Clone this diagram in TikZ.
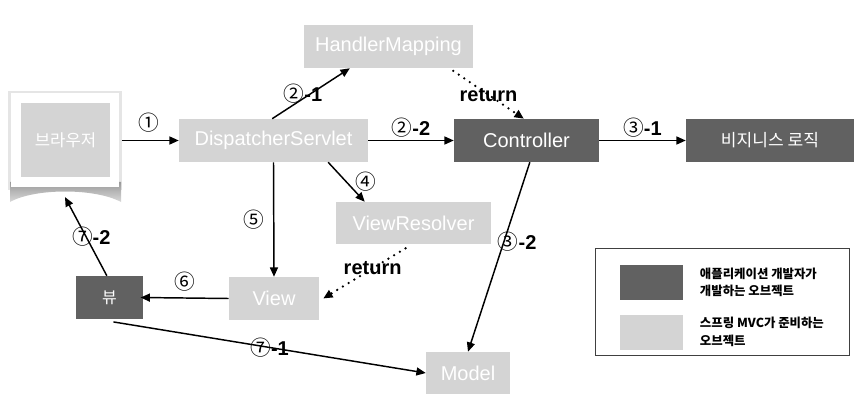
\documentclass[tikz,border=0pt]{standalone}
\usepackage{fontspec}
\setmainfont{Liberation Sans}
\newfontfamily\kr{Noto Sans CJK KR}
\usetikzlibrary{arrows.meta, positioning, calc}
\definecolor{devgray}{RGB}{97, 97, 97}
\definecolor{mvcgray}{RGB}{212, 212, 212}
\newcommand{\circnum}[1]{{\kr\mdseries\fontsize{15.5}{17}\selectfont #1}}

\begin{document}
\begin{tikzpicture}[x=0.75pt, y=-0.75pt, >={Triangle[length=7pt, width=6pt]},
    mvcbox/.style={fill=mvcgray, text=white, inner sep=0pt, minimum height=32.25pt, font=\fontsize{15}{18}\selectfont},
    devbox/.style={fill=devgray, text=white, inner sep=0pt, minimum height=32.25pt, font=\fontsize{15}{18}\selectfont},
    steplabel/.style={font=\fontsize{15}{17}\selectfont\bfseries, inner sep=1pt},
    flow/.style={->, line width=1.1pt},
    backflow/.style={->, line width=1.9pt, dash pattern=on 0pt off 5pt, line cap=round}]
                \useasboundingbox (0,0) rectangle (867,417);
                % browser window with its lifted shadow
                \fill[black!10] (8,91) rectangle (122,190);
                \shade[top color=black!40, bottom color=black!15] (10,182) -- (121,182) -- (121,202) .. controls (95,188) and (35,188) .. (10,202) -- cycle;
                \node[fill=white, minimum width=81pt, minimum height=70.5pt, inner sep=0pt] (win) at (65,140.5) {};
                \node[mvcbox, minimum width=66.75pt, minimum height=55.5pt, font=\kr\fontsize{12.5}{15}\selectfont] (browser) at (65.5,140) {브라우저};
                
                \node[mvcbox, minimum width=141.75pt] (ds) at (273.5,140.5) {DispatcherServlet};
                \node[mvcbox, minimum width=126.75pt] (hm) at (388.5,46.5) {HandlerMapping};
                \node[devbox, minimum width=108.75pt] (ctrl) at (526.5,140.5) {Controller};
                \node[devbox, minimum width=126pt, font=\kr\fontsize{12.8}{15}\selectfont] (biz) at (770,140.5) {비지니스 로직};
                \node[mvcbox, minimum width=116.25pt, minimum height=31.5pt] (vr) at (413.5,223) {ViewResolver};
                \node[mvcbox, minimum width=67.5pt] (view) at (274,298.5) {View};
                \node[devbox, minimum width=50.25pt, font=\kr\fontsize{12}{15}\selectfont] (ui) at (109.5,297.5) {뷰};
                \node[mvcbox, minimum width=63pt, minimum height=31.5pt] (model) at (468,373) {Model};
                
                % numbered steps
                \draw[flow, shorten <=2pt] (win.east) -- (ds.west) node[midway, above=2pt] {\circnum{①}};
                \draw[flow] ([xshift=-1pt]ds.north) -- ([xshift=-29pt]hm.south) node[midway, steplabel, xshift=-6pt] {\circnum{②}-1};
                \draw[flow] (ds.east) -- (ctrl.west) node[midway, steplabel, above=1pt] {\circnum{②}-2};
                \draw[backflow] ([xshift=-15pt, yshift=-2pt]hm.south east) -- ([xshift=-2pt]ctrl.north) node[midway, steplabel] {return};
                \draw[flow] (ctrl.east) -- (biz.west) node[midway, steplabel, above=1pt] {\circnum{③}-1};
                \draw[flow] ([xshift=41pt]ds.south) -- ([xshift=21.75pt]vr.north west) node[midway, right=3pt] {\circnum{④}};
                \draw[flow] (ds.south) -- (view.north) node[midway, left=3pt] {\circnum{⑤}};
                \draw[backflow] ([xshift=-6pt, yshift=-3pt]vr.south) -- ([xshift=3pt]view.east) node[pos=0.4, steplabel] {return};
                \draw[flow] (view.west) -- ([xshift=-2pt]ui.east) node[midway, above=1pt] {\circnum{⑥}};
                \draw[flow] ([xshift=-2pt]ui.north) -- ([yshift=-7pt]win.south) node[midway, steplabel, xshift=4pt] {\circnum{⑦}-2};
                \draw[flow] ([xshift=3pt, yshift=-2pt]ui.south) -- (model.west) node[midway, steplabel] {\circnum{⑦}-1};
                \draw[flow] ([xshift=2.5pt]ctrl.south) -- (model.north) node[pos=0.42, steplabel, xshift=10pt] {\circnum{③}-2};
                
                % legend
                \node[draw=black!75, line width=0.6pt, minimum width=190.5pt, minimum height=80.25pt] (legend) at (722,301.5) {};
                \node[devbox, minimum width=47.25pt, minimum height=26.25pt] (devkey) at (651.5,282.5) {};
                \node[mvcbox, minimum width=47.25pt, minimum height=26.25pt] (mvckey) at (651.5,332) {};
                \node[right=9pt of devkey, align=left, font=\kr\bfseries\fontsize{9.3}{13}\selectfont] (devtext) {애플리케이션 개발자가\\개발하는 오브젝트};
                \node[right=9pt of mvckey, align=left, font=\kr\bfseries\fontsize{9.3}{13}\selectfont] (mvctext) {스프링 MVC가 준비하는\\오브젝트};
            \end{tikzpicture}
\end{document}
